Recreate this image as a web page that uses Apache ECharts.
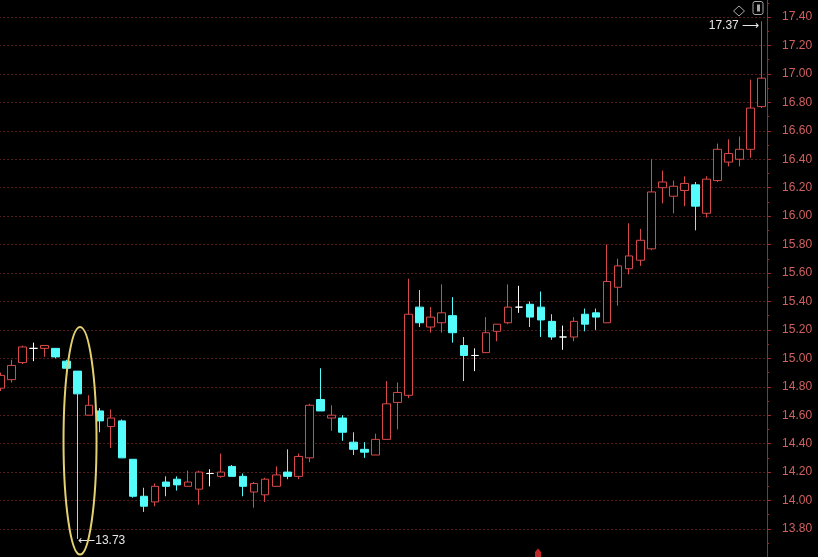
<!DOCTYPE html>
<html><head><meta charset="utf-8">
<script src="https://cdn.jsdelivr.net/npm/echarts@6/dist/echarts.min.js"></script>
<style>html,body{margin:0;padding:0;background:#000;overflow:hidden;width:818px;height:557px;}
#c{position:absolute;left:-12px;top:-12px;width:830px;height:570px;}</style>
</head><body><div id="c"></div>
<script>
// ---- data ----
const openValues  = [14.79,14.85,14.97,15.07,15.07,15.07,14.98,14.91,14.60,14.63,
                     14.52,14.56,14.29,14.03,13.99,14.13,14.15,14.10,14.08,14.19,
                     14.17,14.24,14.17,14.06,14.04,14.10,14.20,14.17,14.30,14.71,
                     14.58,14.58,14.41,14.36,14.32,14.43,14.69,14.74,15.36,15.22,
                     15.25,15.30,15.09,15.02,15.04,15.19,15.25,15.36,15.38,15.36,
                     15.26,15.15,15.15,15.31,15.32,15.25,15.50,15.63,15.69,15.77,
                     16.20,16.14,16.18,16.22,16.02,16.25,16.38,16.40,16.47,16.77];
const closeValues = [14.88,14.95,15.08,15.07,15.09,15.01,14.93,14.75,14.67,14.56,
                     14.58,14.30,14.03,13.96,14.10,14.10,14.11,14.13,14.20,14.19,
                     14.20,14.17,14.10,14.12,14.15,14.18,14.17,14.31,14.67,14.63,
                     14.60,14.48,14.36,14.34,14.43,14.68,14.76,15.31,15.25,15.29,
                     15.32,15.18,15.02,15.02,15.18,15.24,15.36,15.36,15.29,15.27,
                     15.15,15.15,15.26,15.24,15.29,15.54,15.65,15.72,15.83,16.17,
                     16.24,16.21,16.23,16.07,16.26,16.47,16.44,16.47,16.76,16.97];
const lowValues   = [14.77,14.83,14.96,14.98,15.01,15.00,14.92,13.73,14.60,14.48,
                     14.37,14.30,14.02,13.92,13.96,14.03,14.07,14.10,13.97,14.10,
                     14.16,14.17,14.03,13.95,13.99,14.10,14.15,14.15,14.27,14.63,
                     14.49,14.42,14.32,14.30,14.32,14.43,14.50,14.72,15.22,15.18,
                     15.18,15.11,14.84,14.91,15.04,15.12,15.24,15.32,15.22,15.15,
                     15.13,15.06,15.12,15.19,15.20,15.25,15.37,15.59,15.65,15.76,
                     16.09,16.02,16.07,15.90,15.99,16.24,16.35,16.35,16.41,16.76];
const highValues  = [14.90,14.99,15.09,15.11,15.09,15.07,14.99,14.91,14.74,14.65,
                     14.64,14.57,14.29,14.09,14.12,14.17,14.17,14.21,14.21,14.22,
                     14.33,14.25,14.19,14.13,14.16,14.24,14.36,14.33,14.68,14.93,
                     14.67,14.60,14.48,14.41,14.47,14.84,14.83,15.56,15.48,15.36,
                     15.52,15.43,15.15,15.07,15.29,15.24,15.52,15.51,15.40,15.47,
                     15.31,15.23,15.29,15.35,15.35,15.80,15.70,15.95,15.91,16.40,
                     16.32,16.25,16.28,16.24,16.28,16.51,16.54,16.56,16.96,17.37];
const categories = openValues.map((_, i) => 'D' + (i + 1));
const yTickLabels = ['13.80','14.00','14.20','14.40','14.60','14.80','15.00','15.20','15.40',
                     '15.60','15.80','16.00','16.20','16.40','16.60','16.80','17.00','17.20','17.40'];
// annotation: ellipse drawn around the long-lower-shadow candle
const ellipseIndex = 7, ellipseTop = 15.22, ellipseBottom = 13.62;

const candleData = categories.map((_, i) => [openValues[i], closeValues[i], lowValues[i], highValues[i]]);
const hiIdx = highValues.indexOf(Math.max(...highValues));
const loIdx = lowValues.indexOf(Math.min(...lowValues));

// the chart div is shifted 12px up/left of the page
const OFF = 12;
const chart = echarts.init(document.getElementById('c'), null, {renderer: 'canvas'});
const font = 'Liberation Sans';
chart.setOption({
  backgroundColor: '#000',
  animation: false,
  grid: {left: 7, right: 50.9, top: 0.6, bottom: 0.6, containLabel: false},
  xAxis: {type: 'category', data: categories, boundaryGap: true, show: false},
  yAxis: {
    type: 'value', position: 'right', min: 13.6, max: 17.6, interval: 0.2,
    axisLine: {show: true, lineStyle: {color: '#962e2e', width: 1}},
    axisTick: {show: true, length: 4, lineStyle: {color: '#962e2e'}},
    minorTick: {show: true, splitNumber: 2, length: 2, lineStyle: {color: '#962e2e'}},
    axisLabel: {
      show: true, margin: 15, color: '#d06060', fontSize: 12, fontFamily: font,
      showMinLabel: false, showMaxLabel: false,
      formatter: v => { const s = v.toFixed(2); return yTickLabels.includes(s) ? s : ''; }
    },
    splitLine: {show: true, lineStyle: {color: '#561b1b', type: [2, 2], width: 1}}
  },
  series: [{
    type: 'candlestick',
    data: candleData,
    barWidth: 8,
    itemStyle: {
      color: '#000', color0: '#54fcfc',
      borderColor: '#d84a4a', borderColor0: '#54fcfc', borderColorDoji: '#ffffff',
      borderWidth: 1
    },
    markPoint: {
      symbol: 'circle', symbolSize: 1,
      itemStyle: {color: 'rgba(0,0,0,0)'},
      data: [
        {coord: [hiIdx, highValues[hiIdx]],
         label: {show: true, position: 'left', distance: 2, offset: [0, 4],
                 formatter: highValues[hiIdx].toFixed(2) + ' \u27F6',
                 color: '#e6e6e6', fontSize: 12, fontFamily: font}},
        {coord: [loIdx, lowValues[loIdx]],
         label: {show: true, position: 'right', distance: 0, offset: [0, 2],
                 formatter: '\u27F5' + lowValues[loIdx].toFixed(2),
                 color: '#e6e6e6', fontSize: 12, fontFamily: font}}
      ]
    }
  }]
});

const pT = chart.convertToPixel({xAxisIndex: 0, yAxisIndex: 0}, [ellipseIndex, ellipseTop]);
const pB = chart.convertToPixel({xAxisIndex: 0, yAxisIndex: 0}, [ellipseIndex, ellipseBottom]);
chart.setOption({
  graphic: [
    {type: 'ellipse', shape: {cx: pT[0] + 2.3, cy: (pT[1] + pB[1]) / 2, rx: 16.5, ry: (pB[1] - pT[1]) / 2},
     style: {fill: 'none', stroke: '#e3d070', lineWidth: 2}, z: 100},
    {type: 'polygon', shape: {points: [[739 + OFF, 6 + OFF], [744.5 + OFF, 11 + OFF], [739 + OFF, 16 + OFF], [733.5 + OFF, 11 + OFF]]},
     style: {fill: 'none', stroke: '#a8a8a8', lineWidth: 1}, z: 100},
    {type: 'rect', shape: {x: 753 + OFF, y: 1.5 + OFF, width: 10, height: 13, r: 2},
     style: {fill: 'none', stroke: '#a8a8a8', lineWidth: 1}, z: 100},
    {type: 'rect', shape: {x: 757 + OFF, y: 4.5 + OFF, width: 3, height: 7},
     style: {fill: '#a8a8a8'}, z: 100},
    {type: 'polygon', shape: {points: [[535 + OFF, 557 + OFF], [535 + OFF, 552 + OFF], [538 + OFF, 548.5 + OFF], [541 + OFF, 552 + OFF], [541 + OFF, 557 + OFF]]},
     style: {fill: '#c02828'}, z: 100}
  ]
});
</script>
</body></html>
